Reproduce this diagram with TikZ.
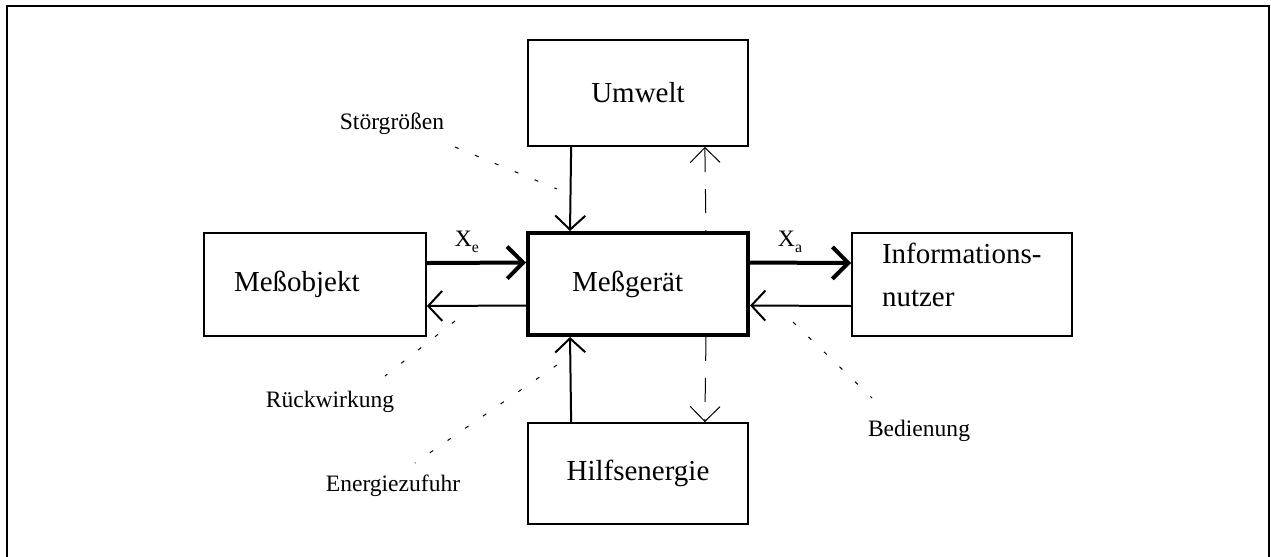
\documentclass[tikz,border=0pt]{standalone}
\usepackage{fontspec}
\setmainfont{Liberation Serif}
\usetikzlibrary{arrows.meta}

\begin{document}
\begin{tikzpicture}[x=0.02cm,y=-0.02cm,
  box/.style={draw,line width=0.035cm,fill=white,minimum width=4.4cm,minimum height=2.04cm,inner sep=0pt,font=\fontsize{16.5}{20}\selectfont},
  lbl/.style={font=\fontsize{13.4}{15}\selectfont,inner sep=0pt},
  pfeil/.style={line width=0.04cm,-{Straight Barb[length=0.28cm,width=0.6cm]}},
  dickpfeil/.style={line width=0.08cm,-{Straight Barb[length=0.32cm,width=0.64cm]}},
  strich/.style={line width=0.02cm,dash pattern=on 0.48cm off 0.34cm},
  punkt/.style={line width=0.02cm,dash pattern=on 0.08cm off 0.35cm}]

\useasboundingbox (0,0) rectangle (1271,556);
\draw [line width=0.04cm] (7,570)--(7,6)--(1269,6)--(1269,570);

\node [box,minimum height=2.12cm] (umwelt) at (638,93) {Umwelt};
\node [box,line width=0.08cm,text width=2.64cm,inner xsep=0.88cm,align=left] (geraet) at (638,284) {Meßgerät};
\node [box,minimum height=2.02cm] (hilfs) at (638,473.5) {Hilfsenergie};
\node [box,minimum height=2.06cm,text width=3.24cm,inner xsep=0.6cm,align=left] (objekt) at (315,284.5) {Meßobjekt};
\node [box,minimum height=2.06cm,text width=3.2cm,inner xsep=0.6cm,align=left,font=\fontsize{16.5}{24.4}\selectfont] (nutzer) at (962,284.5) {Informations-\\nutzer\rule[-0.4cm]{0pt}{0.4cm}};

\node [lbl] (stoer) at (392,124) {Störgrößen};
\node [lbl] (rueck) at (330,402) {Rückwirkung};
\node [lbl] (energie) at (393,486) {Energiezufuhr};
\node [lbl] (bedien) at (919,431) {Bedienung};
\node [lbl] (xe) at (467,242) {X\raisebox{-0.5ex}{\fontsize{9}{9}\selectfont e}};
\node [lbl] (xa) at (790,242) {X\raisebox{-0.5ex}{\fontsize{9}{9}\selectfont a}};

\draw [dickpfeil] ([yshift=0.43cm]objekt.east) -- ([yshift=0.43cm]geraet.west);
\draw [pfeil] ([yshift=-0.43cm]geraet.west) -- ([yshift=-0.43cm]objekt.east);
\draw [dickpfeil] ([yshift=0.43cm]geraet.east) -- ([yshift=0.43cm]nutzer.west);
\draw [pfeil] ([yshift=-0.43cm]nutzer.west) -- ([yshift=-0.43cm]geraet.east);

\draw [pfeil] ([xshift=0.88cm]umwelt.south west) -- ([xshift=0.88cm]geraet.north west);
\draw [pfeil] ([xshift=0.88cm]hilfs.north west) -- ([xshift=0.88cm]geraet.south west);
\draw [strich,{Straight Barb[length=0.3cm,width=0.6cm]}-] ([xshift=-0.88cm]umwelt.south east) -- ([xshift=-0.88cm]geraet.north east);
\draw [strich,-{Straight Barb[length=0.3cm,width=0.6cm]}] ([xshift=-0.88cm]geraet.south east) -- ([xshift=-0.88cm]hilfs.north east);

% gepunktete Hinweislinien
\path (455,147) coordinate(s1);
\path (557,189) coordinate(s2);
\path (455,321) coordinate(r1);
\path (385,376) coordinate(r2);
\path (557,365) coordinate(e1);
\path (415,463) coordinate(e2);
\path (793,322) coordinate(b1);
\path (872,398) coordinate(b2);

\draw [punkt] (s1)--(s2);
\draw [punkt] (r1)--(r2);
\draw [punkt] (e1)--(e2);
\draw [punkt] (b1)--(b2);

\end{tikzpicture}
\end{document}
